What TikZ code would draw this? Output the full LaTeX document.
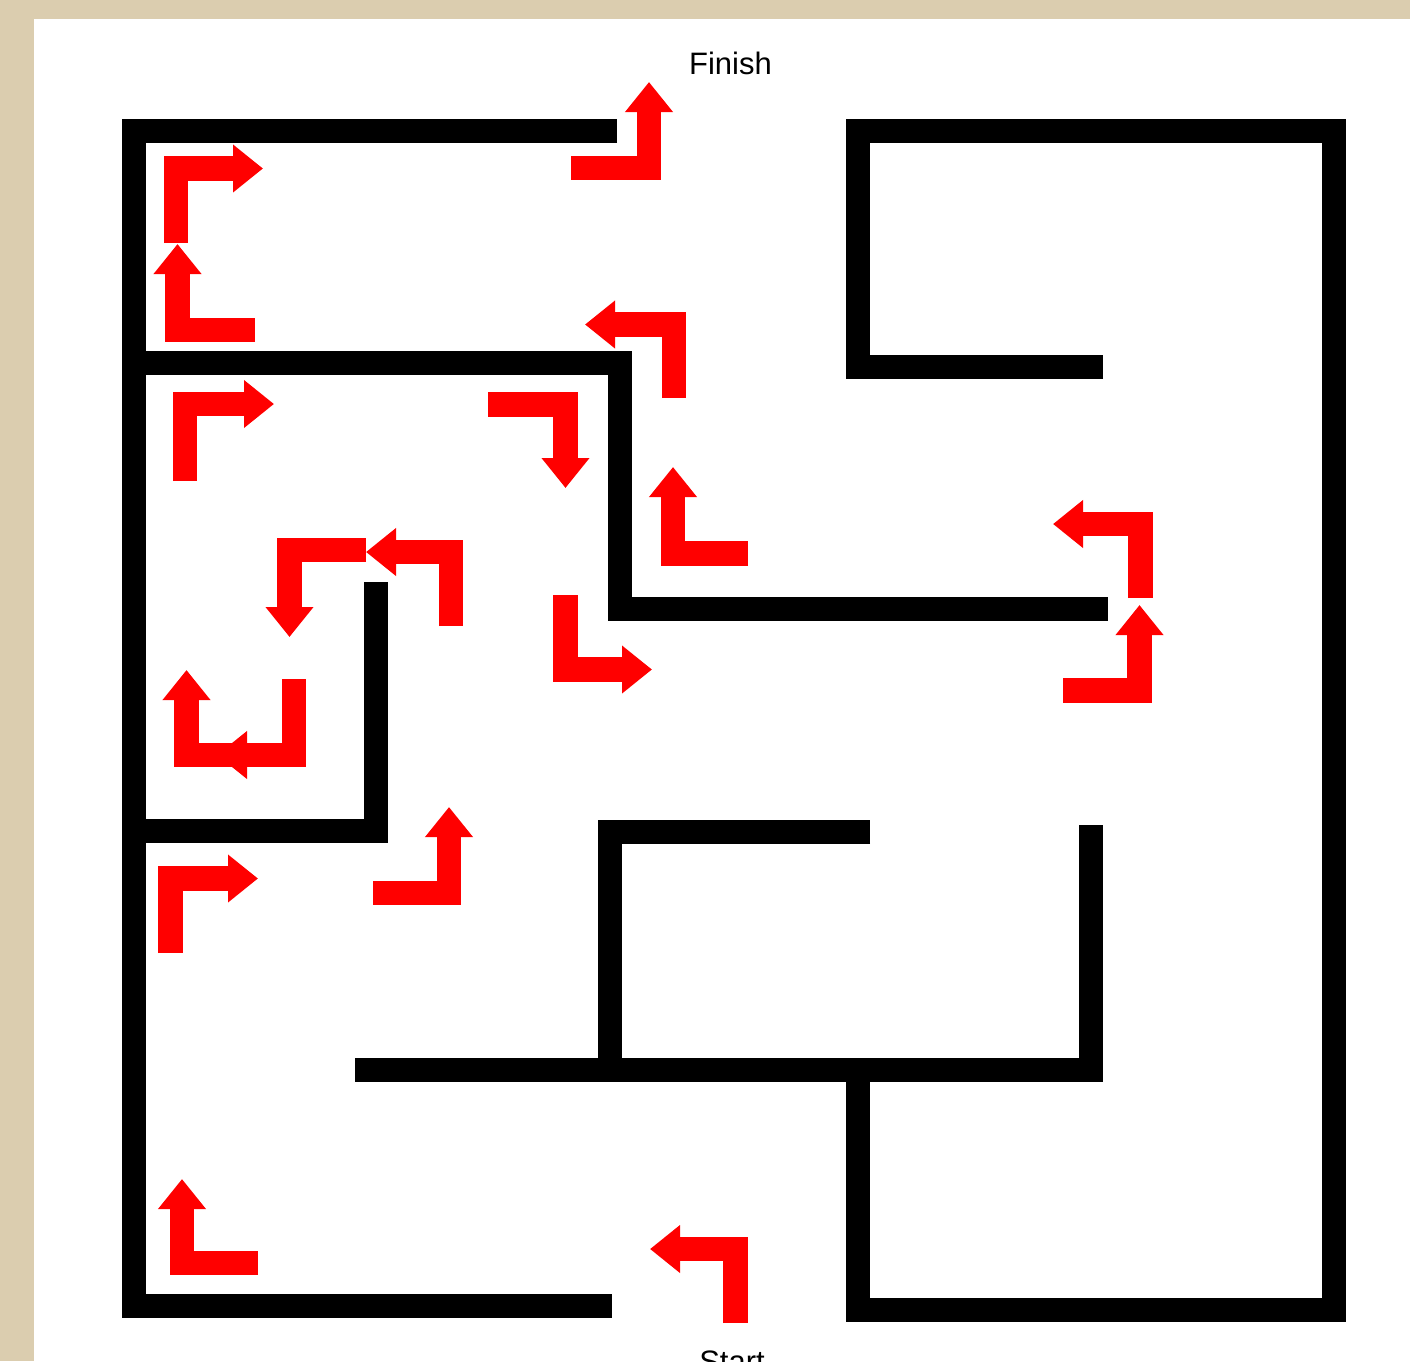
\documentclass[tikz,border=0pt]{standalone}
\usepackage{fontspec}
\setmainfont{Liberation Sans}
\usetikzlibrary{arrows.meta}
\definecolor{beige}{RGB}{219,205,175}
\definecolor{arrred}{RGB}{255,0,0}
\tikzset{
  wall/.style={line width=24pt, black, line cap=butt, line join=miter},
  turn/.style={line width=24.5pt, arrred, line cap=butt, line join=miter,
    -{Triangle[width=46pt,length=30pt]}},
  label/.style={font=\fontsize{31}{36}\selectfont, inner sep=0pt, anchor=base}
}
\begin{document}
\begin{tikzpicture}[x=1pt,y=-1pt]
\clip (0,0) rectangle (1410,1361);
\fill[beige] (0,0) rectangle (1410,1361);
\fill[white] (34,19) rectangle (1410,1361);

% walls
\draw[wall] (617,131) -- (134,131) -- (134,1306) -- (612,1306);
\draw[wall] (1103,366.5) -- (858,366.5) -- (858,131) -- (1334,131) -- (1334,1310) -- (858,1310) -- (858,1069);
\draw[wall] (134,363) -- (620,363) -- (620,609) -- (1108,609);
\draw[wall] (376,582) -- (376,831) -- (134,831);
\draw[wall] (870,832) -- (610,832) -- (610,1069);
\draw[wall] (355,1069.5) -- (1091,1069.5) -- (1091,825);

% arrows
\draw[turn] (176,243) -- (176,168.5) -- (263,168.5);
\draw[turn] (255,330) -- (177.5,330) -- (177.5,244);
\draw[turn] (571,168) -- (649,168) -- (649,82);
\draw[turn] (674,398) -- (674,324.5) -- (585,324.5);
\draw[turn] (185,481) -- (185,404) -- (274,404);
\draw[turn] (488,404.5) -- (565.5,404.5) -- (565.5,488);
\draw[turn] (748,553.5) -- (673,553.5) -- (673,467);
\draw[turn] (366,550) -- (289.5,550) -- (289.5,637);
\draw[turn] (451,626) -- (451,552) -- (366,552);
\draw[turn] (294,679) -- (294,755) -- (217,755);
\draw[turn] (263,755) -- (186.5,755) -- (186.5,670);
\draw[turn] (565.5,595) -- (565.5,669.5) -- (652,669.5);
\draw[turn] (1140.5,598) -- (1140.5,524) -- (1053,524);
\draw[turn] (1063,690.5) -- (1139.5,690.5) -- (1139.5,605);
\draw[turn] (170.5,953) -- (170.5,878.5) -- (258,878.5);
\draw[turn] (373,893) -- (449,893) -- (449,807);
\draw[turn] (258,1263) -- (182,1263) -- (182,1179);
\draw[turn] (735.5,1323) -- (735.5,1249) -- (650,1249);

% labels
\node[label] (finish) at (730.5,74) {Finish};
\node[label] (start) at (732,1372) {Start};
\end{tikzpicture}
\end{document}
